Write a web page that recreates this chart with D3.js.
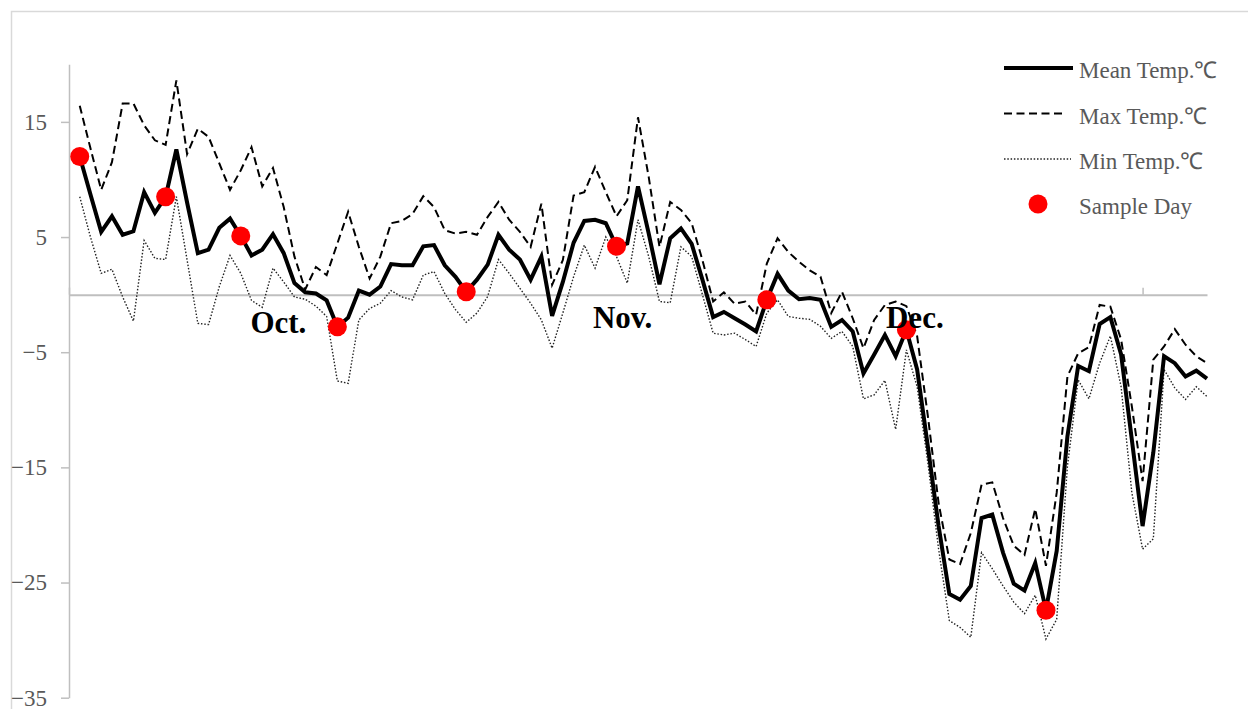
<!DOCTYPE html>
<html>
<head>
<meta charset="utf-8">
<script src="https://cdn.jsdelivr.net/npm/d3@7"></script>
<style>
  body { margin: 0; background: #fff; }
  svg { display: block; font-family: "Liberation Serif", "Times New Roman", serif; }
</style>
</head>
<body>
<svg width="1248" height="709"></svg>
<script>
// daily temperatures, day 1..106
var meanTemp = [12.0, 8.7, 5.45, 6.8, 5.2, 5.5, 8.9, 7.1, 8.5, 12.6,
  8.0, 3.6, 3.9, 5.8, 6.6, 5.1, 3.4, 3.9, 5.25, 3.6,
  1.0, 0.2, 0.1, -0.5, -2.8, -2.0, 0.35, 0.0, 0.7, 2.65,
  2.55, 2.55, 4.2, 4.3, 2.55, 1.55, 0.25, 1.3, 2.6, 5.2,
  3.9, 3.05, 1.3, 3.3, -1.85, 1.1, 4.5, 6.4, 6.5, 6.2,
  4.2, 4.45, 9.4, 5.3, 0.9, 4.9, 5.75, 4.4, 1.3, -1.95,
  -1.5, -2.05, -2.6, -3.2, -0.45, 1.8, 0.35, -0.4, -0.3, -0.45,
  -2.8, -2.2, -3.2, -6.85, -5.2, -3.5, -5.35, -3.05, -6.5, -13.2,
  -20.1, -26.0, -26.5, -25.3, -19.4, -19.1, -22.4, -25.1, -25.7, -23.3,
  -27.4, -22.25, -12.3, -6.2, -6.65, -2.55, -1.95, -5.2, -12.6, -20.1,
  -13.7, -5.35, -5.95, -7.1, -6.6, -7.3];

var maxTemp = [16.4, 12.7, 9.1, 11.5, 16.6, 16.6, 14.7, 13.4, 13.0, 18.6,
  12.2, 14.4, 13.7, 11.4, 9.1, 10.8, 12.8, 9.4, 11.0, 7.6,
  3.3, 0.45, 2.4, 1.7, 4.45, 7.2, 4.15, 1.4, 3.3, 6.2,
  6.4, 7.0, 8.55, 7.6, 5.6, 5.3, 5.45, 5.2, 6.75, 8.05,
  6.5, 5.45, 4.15, 7.9, 0.85, 3.0, 8.6, 8.9, 11.1, 8.9,
  6.8, 8.2, 15.4, 10.2, 4.15, 8.05, 7.35, 6.2, 3.0, -0.6,
  0.2, -0.8, -0.6, -1.75, 2.7, 4.9, 3.7, 2.85, 2.1, 1.55,
  -1.6, 0.25, -2.05, -4.65, -2.2, -0.9, -0.6, -1.0, -3.6, -10.55,
  -18.1, -23.0, -23.4, -20.7, -16.5, -16.3, -19.4, -21.8, -22.6, -18.6,
  -23.55, -17.2, -7.1, -5.1, -4.55, -0.9, -1.05, -3.9, -9.7, -16.2,
  -5.65, -4.5, -3.0, -4.35, -5.35, -5.95];

var minTemp = [8.5, 5.0, 1.85, 2.2, -0.2, -2.3, 4.7, 3.15, 3.05, 8.5,
  3.0, -2.5, -2.6, 0.7, 3.4, 1.85, -0.5, -1.1, 2.3, 1.1,
  -0.2, -0.4, -1.0, -1.9, -7.5, -7.7, -2.2, -1.2, -0.75, 0.35,
  -0.2, -0.45, 1.7, 2.0, 0.1, -1.3, -2.4, -1.6, -0.15, 3.05,
  1.85, 0.55, -0.75, -2.2, -4.65, -1.6, 1.55, 4.3, 2.3, 5.0,
  3.3, 1.0, 6.5, 3.3, -0.6, -0.7, 4.15, 3.3, 0.0, -3.35,
  -3.5, -3.35, -3.9, -4.5, -1.6, -0.45, -1.9, -2.05, -2.15, -2.75,
  -3.8, -3.2, -4.5, -9.05, -8.7, -7.45, -11.7, -4.8, -8.0, -14.6,
  -22.1, -28.3, -28.9, -29.75, -22.4, -23.8, -25.3, -26.7, -27.7, -26.1,
  -29.9, -28.2, -14.9, -7.4, -9.05, -5.95, -3.6, -8.0, -17.2, -22.1,
  -21.2, -6.5, -8.1, -9.1, -8.0, -8.85];

// sample days (day numbers)
var sampleDays = [1, 9, 16, 25, 37, 51, 65, 78, 91];

var yTicks = [-35, -25, -15, -5, 5, 15];
var xTicks = [0, 100];

var months = ["Oct.", "Nov.", "Dec."];
var monthDay = [16.9, 48.8, 76.1];
var monthTemp = [-3.3, -2.9, -2.9];

var legendNames = ["Mean Temp.℃", "Max Temp.℃", "Min Temp.℃", "Sample Day"];

var svg = d3.select("svg");

// chart border
svg.append("rect")
    .attr("x", 11.5).attr("y", 11.5)
    .attr("width", 1300).attr("height", 800)
    .attr("fill", "none")
    .attr("stroke", "#d9d9d9")
    .attr("stroke-width", 1.5);

var x = d3.scaleLinear().domain([0, 106]).range([69, 1207]);
var y = d3.scaleLinear().domain([-35, 20]).range([697.7, 64.3]);

// y axis
var yAxis = svg.append("g")
    .attr("transform", "translate(" + x(0) + ",0)")
    .call(d3.axisLeft(y).tickValues(yTicks).tickSize(8).tickPadding(14).tickSizeOuter(0));
yAxis.select(".domain").attr("stroke", "#bfbfbf").attr("stroke-width", 1.5);
yAxis.selectAll(".tick line").attr("stroke", "#bfbfbf").attr("stroke-width", 1.5);
yAxis.selectAll(".tick text")
    .attr("fill", "#595959")
    .style("font-family", "Liberation Serif, serif")
    .style("font-size", "23px");

// x axis along zero
var xAxis = svg.append("g")
    .attr("transform", "translate(0," + y(0) + ")")
    .call(d3.axisTop(x).tickValues(xTicks).tickSize(7).tickSizeOuter(0).tickFormat(""));
xAxis.select(".domain").attr("stroke", "#bfbfbf").attr("stroke-width", 2);
xAxis.selectAll(".tick line").attr("stroke", "#bfbfbf").attr("stroke-width", 1.5);

function lineOf(vals) {
    return d3.line()
        .x(function(d, i) { return x(i + 1); })
        .y(function(d) { return y(d); })(vals);
}

svg.append("path")
    .attr("d", lineOf(minTemp))
    .attr("fill", "none")
    .attr("stroke", "#222")
    .attr("stroke-width", 1.4)
    .attr("stroke-dasharray", "1.5,1.8");

svg.append("path")
    .attr("d", lineOf(maxTemp))
    .attr("fill", "none")
    .attr("stroke", "#000")
    .attr("stroke-width", 2)
    .attr("stroke-dasharray", "8,4.5");

svg.append("path")
    .attr("d", lineOf(meanTemp))
    .attr("fill", "none")
    .attr("stroke", "#000")
    .attr("stroke-width", 4)
    .attr("stroke-linejoin", "miter");

svg.selectAll("circle.sample")
    .data(sampleDays)
    .enter().append("circle")
      .attr("class", "sample")
      .attr("cx", function(d) { return x(d); })
      .attr("cy", function(d) { return y(meanTemp[d - 1]); })
      .attr("r", 9.5)
      .attr("fill", "#ff0000");

svg.selectAll("text.month")
    .data(months)
    .enter().append("text")
      .attr("class", "month")
      .attr("x", function(d, i) { return x(monthDay[i]); })
      .attr("y", function(d, i) { return y(monthTemp[i]); })
      .style("font-family", "Liberation Serif, serif")
      .style("font-weight", "bold")
      .style("font-size", "31px")
      .attr("fill", "#000")
      .text(function(d) { return d; });

// legend
var legend = svg.append("g").attr("transform", "translate(1004,0)");
var legendY = [68, 113.5, 159, 204];

legend.append("line").attr("x1", 0).attr("x2", 69).attr("y1", legendY[0]).attr("y2", legendY[0])
    .attr("stroke", "#000").attr("stroke-width", 4);
legend.append("line").attr("x1", 0).attr("x2", 62).attr("y1", legendY[1]).attr("y2", legendY[1])
    .attr("stroke", "#000").attr("stroke-width", 2).attr("stroke-dasharray", "8,4.5");
legend.append("line").attr("x1", 0).attr("x2", 67).attr("y1", legendY[2]).attr("y2", legendY[2])
    .attr("stroke", "#222").attr("stroke-width", 1.4).attr("stroke-dasharray", "1.5,1.8");
legend.append("circle").attr("cx", 34).attr("cy", legendY[3]).attr("r", 9.5).attr("fill", "#ff0000");

legend.selectAll("text")
    .data(legendNames)
    .enter().append("text")
      .attr("x", 75)
      .attr("y", function(d, i) { return legendY[i] + 2; })
      .attr("dy", "0.35em")
      .attr("fill", "#595959")
      .style("font-family", "Liberation Serif, serif")
      .style("font-size", "23px")
      .text(function(d) { return d; });
</script>
</body>
</html>
